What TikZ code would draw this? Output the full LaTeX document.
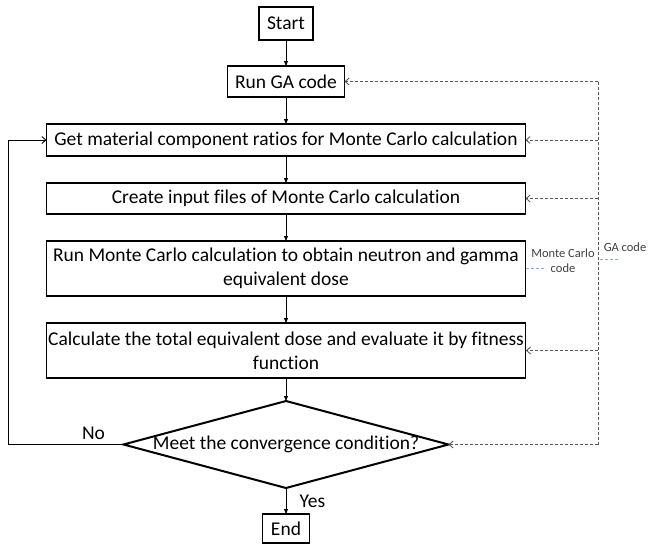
\documentclass[tikz,border=0pt]{standalone}
\usepackage{fontspec}
\setmainfont[Ligatures=NoCommon]{Carlito}
\usetikzlibrary{shapes.geometric, arrows.meta, positioning}
\definecolor{hintblue}{RGB}{140,170,215}

\begin{document}
\begin{tikzpicture}[
		font=\fontsize{19.5bp}{24bp}\selectfont,
		blk/.style={draw,rectangle,line width=1.2bp,inner sep=2bp,outer sep=0pt,align=center},
		wide/.style={blk,minimum width=479bp},
		dec/.style={draw,diamond,line width=2bp,aspect=4,inner sep=-4bp,outer sep=0pt,minimum width=325bp,minimum height=87bp},
		flow/.style={-{Triangle[length=5bp,width=4bp]},line width=0.8bp},
		back/.style={-{Straight Barb[length=4bp,width=7bp]},line width=0.9bp},
		ret/.style={-{Straight Barb[length=4bp,width=7bp]},dash pattern=on 3bp off 2bp,draw=black!65,line width=0.9bp},
		tag/.style={font=\fontsize{12.5bp}{15bp}\selectfont,text=black!75,align=center,inner sep=0pt},
		hint/.style={draw=hintblue,dash pattern=on 3bp off 2bp,line width=0.9bp}
		]
		\useasboundingbox (0,0) rectangle (648bp,-545bp);
		\node (start) [blk,minimum width=54bp,minimum height=33bp] at (286bp,-23.5bp) {Start};
		\node (rga) [blk,below=26bp of start,minimum width=117bp,minimum height=31bp] {Run GA code};
		\node (ratio) [wide,below=27bp of rga,minimum height=32bp] {Get material component ratios for Monte Carlo calculation};
		\node (inp) [wide,below=27bp of ratio,minimum height=31bp] {Create input files of Monte Carlo calculation};
		\node (mc) [wide,below=27bp of inp,minimum height=55bp] {Run Monte Carlo calculation to obtain neutron and gamma\\equivalent dose};
		\node (fit) [wide,below=27bp of mc,minimum height=55bp] {Calculate the total equivalent dose and evaluate it by fitness\\function};
		\node (conv) [dec,below=23bp of fit] {Meet the convergence condition?};
		\node (stop) [blk,below=26bp of conv,minimum width=47bp,minimum height=29bp] {End};
		\coordinate (bus) at (598bp,0);
		\coordinate (loop) at (8bp,0);
		\draw [flow] (start) -- (rga);
		\draw [flow] (rga) -- (ratio);
		\draw [flow] (ratio) -- (inp);
		\draw [flow] (inp) -- (mc);
		\draw [flow] (mc) -- (fit);
		\draw [flow] (fit) -- (conv);
		\draw [flow] (conv) -- node[right=10bp] {Yes} (stop);
		\draw [back] (conv.west) -- node[above=1bp,pos=.26] {No} (loop |- conv.west) |- (ratio.west);
		% return paths of the GA loop
		\draw [ret,-] (bus |- rga.east) -- (bus |- conv.east);
		\draw [ret] (bus |- rga.east) -- (rga.east);
		\draw [ret] (bus |- ratio.east) -- (ratio.east);
		\draw [ret] (bus |- inp.east) -- (inp.east);
		\draw [ret] (bus |- fit.east) -- (fit.east);
		\draw [ret] (bus |- conv.east) -- (conv.east);
		% legend
		\draw [hint] (mc.east) -- ++(20bp,0);
		\node (mclab) [tag] at (563bp,-261bp) {Monte Carlo\\code};
		\node (galab) [tag] at (625bp,-247bp) {GA code};
		\draw [hint] (600bp,-259bp) -- (620bp,-259bp);
	\end{tikzpicture}
\end{document}
